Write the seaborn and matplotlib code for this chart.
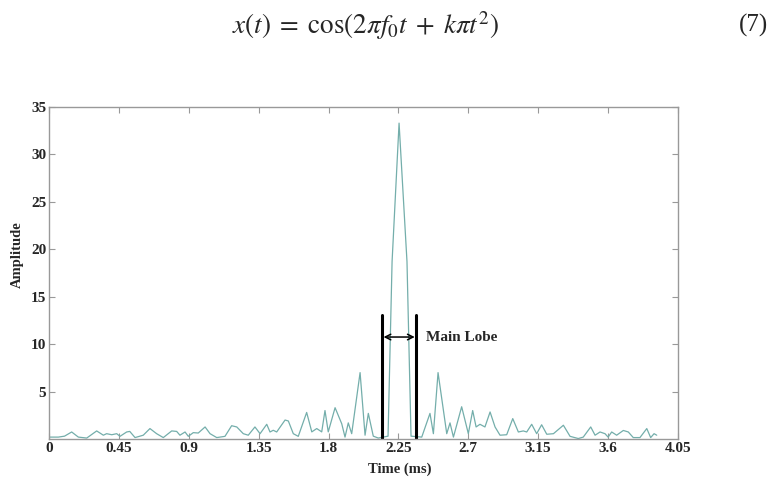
import matplotlib
matplotlib.use("Agg")
import matplotlib.pyplot as plt
import seaborn as sns
import pandas as pd

# values (time in ms, amplitude)
time_ms = [0.006, 0.06, 0.10, 0.146, 0.189, 0.243, 0.307, 0.35, 0.371, 0.404,
           0.436, 0.457, 0.50, 0.52, 0.554, 0.607, 0.65, 0.693, 0.736, 0.79,
           0.822, 0.843, 0.876, 0.897, 0.929, 0.961, 1.005, 1.037, 1.08, 1.133,
           1.176, 1.209, 1.251, 1.283, 1.326, 1.359, 1.402, 1.423, 1.444, 1.466,
           1.52, 1.541, 1.573, 1.605, 1.659, 1.692, 1.724, 1.756, 1.777, 1.798,
           1.842, 1.885, 1.906, 1.927, 1.949, 2.003, 2.035, 2.056, 2.088, 2.12,
           2.183, 2.209, 2.254, 2.305, 2.331, 2.40, 2.453, 2.475, 2.505, 2.561,
           2.582, 2.604, 2.657, 2.70, 2.728, 2.75, 2.775, 2.807, 2.84, 2.872,
           2.904, 2.947, 2.986, 3.022, 3.054, 3.076, 3.108, 3.14, 3.172, 3.205,
           3.248, 3.312, 3.355, 3.408, 3.44, 3.488, 3.516, 3.548, 3.58, 3.60,
           3.623, 3.655, 3.698, 3.73, 3.762, 3.805, 3.849, 3.874, 3.896, 3.913]
amplitude = [0.2, 0.2, 0.3, 0.74, 0.2, 0.1, 0.85, 0.4, 0.56, 0.45,
             0.56, 0.28, 0.74, 0.8, 0.15, 0.4, 1.1, 0.56, 0.15, 0.85,
             0.8, 0.4, 0.74, 0.28, 0.67, 0.63, 1.27, 0.56, 0.15, 0.28,
             1.4, 1.27, 0.56, 0.4, 1.27, 0.56, 1.55, 0.74, 0.92, 0.74,
             2.0, 1.9, 0.56, 0.28, 2.8, 0.75, 1.1, 0.75, 3.0, 0.75,
             3.3, 1.6, 0.2, 1.7, 0.56, 7.0, 0.4, 2.7, 0.3, 0.1,
             0.3, 18.7, 33.3, 18.7, 0.3, 0.2, 2.7, 0.56, 7.0, 0.56,
             1.7, 0.2, 3.4, 0.56, 3.0, 1.27, 1.55, 1.27, 2.85, 1.27,
             0.4, 0.45, 2.15, 0.74, 0.85, 0.74, 1.55, 0.56, 1.5, 0.5,
             0.56, 1.45, 0.28, 0.05, 0.2, 1.27, 0.4, 0.74, 0.56, 0.2,
             0.74, 0.4, 0.9, 0.74, 0.15, 0.15, 1.1, 0.15, 0.56, 0.4]

x_ticks = [0, 0.45, 0.9, 1.35, 1.8, 2.25, 2.7, 3.15, 3.6, 4.05]
x_tick_labels = ["0", "0.45", "0.9", "1.35", "1.8", "2.25", "2.7", "3.15", "3.6", "4.05"]
y_ticks = [5, 10, 15, 20, 25, 30, 35]

# main lobe marker
lobe_left, lobe_right, lobe_top = 2.144, 2.365, 13.1
arrow_y = 10.75

df = pd.DataFrame({"Time (ms)": time_ms, "Amplitude": amplitude})

sns.set_style("ticks")
plt.rcParams["font.family"] = ["Liberation Serif", "DejaVu Serif"]
plt.rcParams["mathtext.fontset"] = "stix"

fig = plt.figure(figsize=(7.7, 4.96), dpi=100)
ax = fig.add_axes([49 / 770, 1 - 439 / 496, 629 / 770, 332 / 496])

sns.lineplot(data=df, x="Time (ms)", y="Amplitude", ax=ax,
             color="#74aeab", linewidth=0.9)

ax.set_xlim(0, 4.05)
ax.set_ylim(0, 35)
ax.set_xticks(x_ticks)
ax.set_xticklabels(x_tick_labels)
ax.set_yticks(y_ticks)
ax.tick_params(direction="in", length=4, width=0.8, color="#999999",
               top=True, right=True, labelsize=11, pad=2)
for lab in ax.get_xticklabels() + ax.get_yticklabels():
    lab.set_fontweight("bold")
for s in ax.spines.values():
    s.set_color("#999999")
    s.set_linewidth(1.0)

ax.set_xlabel("Time (ms)", fontsize=10.5, fontweight="bold")
ax.xaxis.set_label_coords(0.558, -0.07)
ax.set_ylabel("Amplitude", fontsize=10.5, fontweight="bold")
ax.yaxis.set_label_coords(-0.04, 0.554)

# main lobe annotation
ax.plot([lobe_left, lobe_left], [0, lobe_top], color="black", lw=2.2)
ax.plot([lobe_right, lobe_right], [0, lobe_top], color="black", lw=2.2)
ax.annotate("", xy=(lobe_left + 0.01, arrow_y), xytext=(lobe_right - 0.01, arrow_y),
            arrowprops=dict(arrowstyle="<->", lw=1.1, color="black",
                            shrinkA=0, shrinkB=0))
ax.text(2.43, arrow_y, "Main Lobe", fontsize=11, fontweight="bold",
        va="center", ha="left")

# equation above the figure
fig.text(0.475, 0.948, r"$x(t)\;=\;\cos(2\pi f_0 t\;+\;k\pi t^2)$", fontsize=19.5,
         ha="center", va="center")
fig.text(0.96, 0.948, "(7)", fontsize=18, ha="left", va="center")

fig.savefig("out.png", dpi=100)
